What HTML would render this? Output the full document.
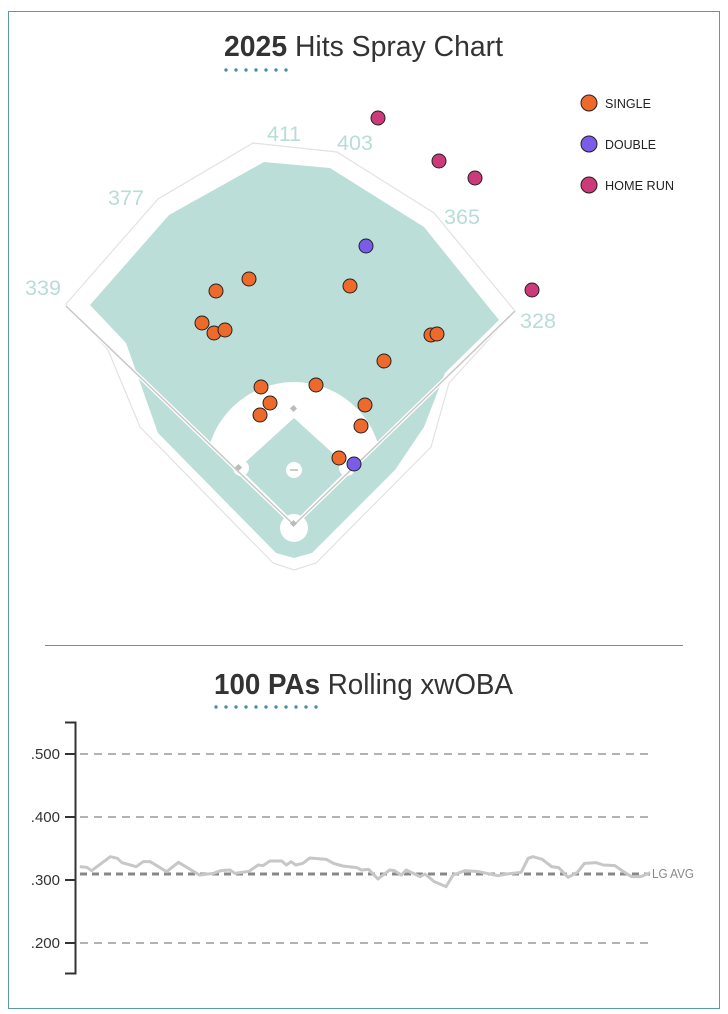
<!DOCTYPE html>
<html><head><meta charset="utf-8"><style>
html,body{margin:0;padding:0;background:#fff;}
body{width:728px;height:1014px;position:relative;overflow:hidden;font-family:"Liberation Sans",sans-serif;}
</style></head><body>
<svg width="728" height="1014" viewBox="0 0 728 1014" xmlns="http://www.w3.org/2000/svg" style="position:absolute;left:0;top:0" font-family="Liberation Sans, sans-serif">
<rect x="8.5" y="11.5" width="711" height="997" fill="none" stroke="#5a9aaa" stroke-width="1"/>
<text x="224" y="56" font-size="29" fill="#333" textLength="279" lengthAdjust="spacingAndGlyphs"><tspan font-weight="bold">2025</tspan> Hits Spray Chart</text>
<g fill="#4a90a4">
<circle cx="226" cy="70" r="1.7"/><circle cx="236" cy="70" r="1.7"/><circle cx="246" cy="70" r="1.7"/><circle cx="256" cy="70" r="1.7"/><circle cx="266" cy="70" r="1.7"/><circle cx="276" cy="70" r="1.7"/><circle cx="286" cy="70" r="1.7"/>
</g>
<defs><clipPath id="fair"><polygon points="294,525 66,306 294,150 515,311"/></clipPath></defs>
<polygon points="66,304 158,199 253,143 337,152 434,213 515,311 449,383 431,447 316,563 294,570 273,563 140,427 108,350" fill="#fff" stroke="#e2e2e2" stroke-width="1.2"/>
<polygon points="90,305 169,215 264,162 330,168 424,227 499,320 445,373 424,427 395,470 312,553 294,558 276,553 158,433 126,343" fill="#bcded9"/>
<circle cx="294" cy="470" r="88" fill="#fff" clip-path="url(#fair)"/>
<polygon points="294,522 349,468 294,418 239,468" fill="#bcded9"/>
<circle cx="294" cy="409" r="8" fill="#fff"/>
<circle cx="241" cy="468" r="8" fill="#fff"/>
<circle cx="347" cy="468" r="8" fill="#fff"/>
<circle cx="294" cy="528" r="14" fill="#fff"/>
<circle cx="294" cy="470" r="8" fill="#fff"/>
<line x1="290" y1="470" x2="298" y2="470" stroke="#bbb" stroke-width="1.5"/>
<line x1="294" y1="525" x2="66" y2="306" stroke="#fff" stroke-width="4"/>
<line x1="294" y1="525" x2="515" y2="311" stroke="#fff" stroke-width="4"/>
<line x1="294" y1="525" x2="66" y2="306" stroke="#c8c8c8" stroke-width="1.5"/>
<line x1="294" y1="525" x2="515" y2="311" stroke="#c8c8c8" stroke-width="1.5"/>
<g fill="#bbb"><rect x="291" y="406" width="5" height="5" transform="rotate(45 293.5 408.5)"/><rect x="236" y="465" width="5" height="5" transform="rotate(45 238.5 467.5)"/><rect x="291" y="521" width="5" height="5" transform="rotate(45 293.5 523.5)"/></g>
<g font-size="21" fill="#b8ddd8" text-anchor="middle">
<text x="284" y="141" textLength="34" lengthAdjust="spacingAndGlyphs">411</text><text x="355" y="150" textLength="36" lengthAdjust="spacingAndGlyphs">403</text><text x="126" y="205" textLength="36" lengthAdjust="spacingAndGlyphs">377</text><text x="462" y="224" textLength="36" lengthAdjust="spacingAndGlyphs">365</text><text x="43" y="295" textLength="36" lengthAdjust="spacingAndGlyphs">339</text><text x="538" y="328" textLength="36" lengthAdjust="spacingAndGlyphs">328</text>
</g>
<g stroke="#222" stroke-width="1">
<g fill="#cc3a7a"><circle cx="378" cy="118" r="7"/><circle cx="439" cy="161" r="7"/><circle cx="475" cy="178" r="7"/><circle cx="532" cy="290" r="7"/></g>
<g fill="#ee6a2a">
<circle cx="249" cy="279" r="7"/><circle cx="216" cy="291" r="7"/><circle cx="350" cy="286" r="7"/><circle cx="202" cy="323" r="7"/><circle cx="214" cy="333" r="7"/><circle cx="225" cy="330" r="7"/><circle cx="431" cy="335" r="7"/><circle cx="437" cy="334" r="7"/><circle cx="384" cy="361" r="7"/><circle cx="261" cy="387" r="7"/><circle cx="316" cy="385" r="7"/><circle cx="270" cy="403" r="7"/><circle cx="260" cy="415" r="7"/><circle cx="365" cy="405" r="7"/><circle cx="361" cy="426" r="7"/><circle cx="339" cy="458" r="7"/>
</g>
<g fill="#7b5ce8"><circle cx="366" cy="246" r="7"/><circle cx="354" cy="464" r="7"/></g>
<circle cx="589" cy="103" r="8" fill="#ee6a2a"/><circle cx="589" cy="144" r="8" fill="#7b5ce8"/><circle cx="589" cy="185" r="8" fill="#cc3a7a"/>
</g>
<g font-size="13" fill="#222"><text x="605" y="108" textLength="46" lengthAdjust="spacingAndGlyphs">SINGLE</text><text x="605" y="149" textLength="51" lengthAdjust="spacingAndGlyphs">DOUBLE</text><text x="605" y="190" textLength="69" lengthAdjust="spacingAndGlyphs">HOME RUN</text></g>
<line x1="45" y1="645.5" x2="683" y2="645.5" stroke="#5a9aaa" stroke-width="1"/>
<text x="214" y="694" font-size="29" fill="#333" textLength="299" lengthAdjust="spacingAndGlyphs"><tspan font-weight="bold">100 PAs</tspan> Rolling xwOBA</text>
<g fill="#4a90a4">
<circle cx="216" cy="707" r="1.7"/><circle cx="226" cy="707" r="1.7"/><circle cx="236" cy="707" r="1.7"/><circle cx="246" cy="707" r="1.7"/><circle cx="256" cy="707" r="1.7"/><circle cx="266" cy="707" r="1.7"/><circle cx="276" cy="707" r="1.7"/><circle cx="286" cy="707" r="1.7"/><circle cx="296" cy="707" r="1.7"/><circle cx="306" cy="707" r="1.7"/><circle cx="316" cy="707" r="1.7"/>
</g>
<g stroke="#999" stroke-width="1.5" stroke-dasharray="8,6">
<line x1="80" y1="754" x2="650" y2="754"/><line x1="80" y1="817" x2="650" y2="817"/><line x1="80" y1="943" x2="650" y2="943"/>
</g>
<line x1="80" y1="874" x2="650" y2="874" stroke="#888" stroke-width="3" stroke-dasharray="7,5"/>
<text x="652" y="878" font-size="13" fill="#888" textLength="42" lengthAdjust="spacingAndGlyphs">LG AVG</text>
<path d="M65,722.5 H75.5 V973.5 H65 M65,754 H75 M65,817 H75 M65,880 H75 M65,943 H75" fill="none" stroke="#333" stroke-width="2"/>
<g font-size="15" fill="#333" text-anchor="end"><text x="60" y="759">.500</text><text x="60" y="822">.400</text><text x="60" y="885">.300</text><text x="60" y="948">.200</text></g>
<g transform="translate(0,700) scale(0.4695,0.33333)">
<polyline fill="none" stroke="#c9c6c6" stroke-width="3" vector-effect="non-scaling-stroke" stroke-linejoin="round" points="170,500 185,502 195,512 235,470 250,475 260,488 290,500 305,485 320,485 355,515 380,487 425,525 455,520 470,512 490,510 500,520 530,514 550,495 560,497 575,483 600,483 610,495 620,485 630,495 645,490 660,474 695,478 710,490 730,498 760,503 770,510 785,508 805,537 830,510 840,512 855,525 865,510 895,530 905,522 925,545 950,560 965,525 990,512 1020,515 1060,527 1080,522 1110,517 1125,475 1135,470 1155,478 1175,500 1190,503 1210,532 1230,517 1245,490 1270,488 1285,495 1310,497 1325,512 1345,530 1365,530 1385,518"/>
</g>
</svg>
</body></html>
